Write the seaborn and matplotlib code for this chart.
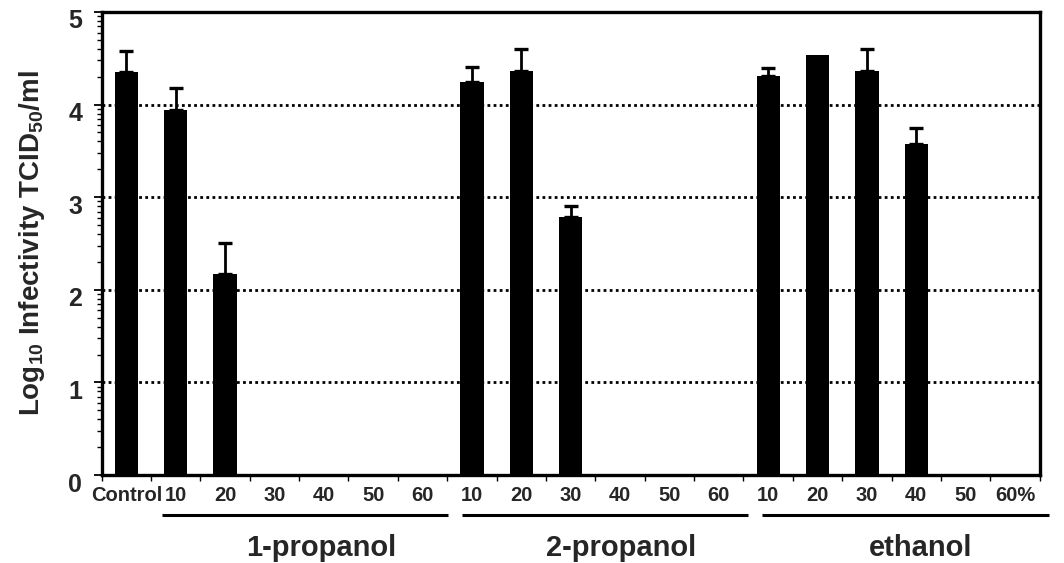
import numpy as np
import pandas as pd
import matplotlib
matplotlib.use("Agg")
import matplotlib.pyplot as plt
import matplotlib.transforms as mtransforms
import seaborn as sns

# ---- data ----
groups = ["1-propanol", "2-propanol", "ethanol"]
concentrations = ["10", "20", "30", "40", "50", "60"]
control_value = 4.35
control_error = 0.23
propanol1_values = [3.94, 2.17, 0, 0, 0, 0]
propanol1_errors = [0.24, 0.34, 0, 0, 0, 0]
propanol2_values = [4.24, 4.36, 2.79, 0, 0, 0]
propanol2_errors = [0.17, 0.24, 0.11, 0, 0, 0]
ethanol_values = [4.31, 4.54, 4.36, 3.57, 0, 0]
ethanol_errors = [0.08, 0.0, 0.24, 0.18, 0, 0]
y_ticks = [0, 1, 2, 3, 4, 5]
y_label = r"Log$_{10}$ Infectivity TCID$_{50}$/ml"

sns.set_theme(style="white")
plt.rcParams["font.family"] = ["Liberation Sans", "DejaVu Sans"]
plt.rcParams["font.weight"] = "bold"
plt.rcParams["mathtext.fontset"] = "custom"
plt.rcParams["mathtext.rm"] = "Liberation Sans:bold"
plt.rcParams["mathtext.it"] = "Liberation Sans:bold"
plt.rcParams["mathtext.bf"] = "Liberation Sans:bold"
plt.rcParams["mathtext.sf"] = "Liberation Sans:bold"

keys = ["Control"]
labels = ["Control"]
values = [control_value]
errors = [control_error]
group_vals = [propanol1_values, propanol2_values, ethanol_values]
group_errs = [propanol1_errors, propanol2_errors, ethanol_errors]
for gi, g in enumerate(groups):
    for ci, c in enumerate(concentrations):
        keys.append(f"{g} {c}")
        lab = c
        if gi == len(groups) - 1 and ci == len(concentrations) - 1:
            lab = c + "%"
        labels.append(lab)
    values += group_vals[gi]
    errors += group_errs[gi]

df = pd.DataFrame({"key": keys, "value": values, "err": errors})
n = len(keys)

fig = plt.figure(figsize=(10.64, 5.63), dpi=100)
ax = fig.add_axes([0.0955, 0.1563, 0.8817, 0.8224])

sns.barplot(data=df, x="key", y="value", order=keys, color="black",
            saturation=1, width=0.47, errorbar=None, linewidth=0,
            ax=ax, zorder=3)

xs = np.arange(n)
errs = np.array(errors)
mask = errs > 0
ax.errorbar(xs[mask], np.array(values)[mask],
            yerr=[np.zeros(mask.sum()), errs[mask]],
            fmt="none", ecolor="black", elinewidth=2.0, capsize=4.8,
            capthick=2.4, zorder=4)

ax.set_xlim(-0.5, n - 0.5)
ax.set_ylim(0, 5)

# gridlines
for yv in y_ticks[1:-1]:
    ax.axhline(yv, color="black", linestyle=(0, (1, 1.2)), linewidth=2.0, zorder=1)

# spines
for s in ax.spines.values():
    s.set_visible(True)
    s.set_color("black")
    s.set_linewidth(2.4)

# y ticks
ax.set_yticks(y_ticks)
ax.set_yticklabels([str(v) for v in y_ticks], fontsize=18, fontweight="bold")
minor_y = [b + np.log10(k) for b in range(5) for k in range(2, 10)]
ax.set_yticks(minor_y, minor=True)
ax.tick_params(axis="y", which="major", direction="out", length=6, width=1.3,
               color="black", pad=8, left=True)
ax.tick_params(axis="y", which="minor", direction="out", length=3.5, width=1.0,
               color="black", left=True)
shift = mtransforms.ScaledTranslation(0, -7 / 100, fig.dpi_scale_trans)
for lbl in ax.get_yticklabels():
    lbl.set_transform(lbl.get_transform() + shift)

# x ticks: boundaries as major ticks, labels at centres
ax.set_xticks(np.arange(n + 1) - 0.5)
ax.set_xticklabels([""] * (n + 1))
ax.set_xticks(xs, minor=True)
ax.set_xticklabels(labels, minor=True, fontsize=14.5, fontweight="bold")
ax.tick_params(axis="x", which="major", direction="out", length=4, width=1.0,
               color="black", bottom=True)
ax.tick_params(axis="x", which="minor", length=0, pad=8, bottom=True)
ax.set_xlabel("")
ax.set_ylabel(y_label, fontsize=20, fontweight="bold", labelpad=15)

# group underlines and names
trans = mtransforms.blended_transform_factory(ax.transData, ax.transAxes)
for gi, g in enumerate(groups):
    first = 1 + gi * len(concentrations)
    last = first + len(concentrations) - 1
    ax.plot([first - 0.27 + 0.07 * gi, last + 0.52 + 0.08 * gi], [-0.087, -0.087],
            transform=trans, color="black", linewidth=2.2, clip_on=False,
            solid_capstyle="butt")
    ax.text((first + last) / 2 + 0.45 + 0.07 * gi, -0.158, g, transform=trans,
            ha="center", va="center", fontsize=21, fontweight="bold")

fig.savefig("out.png", dpi=100)
